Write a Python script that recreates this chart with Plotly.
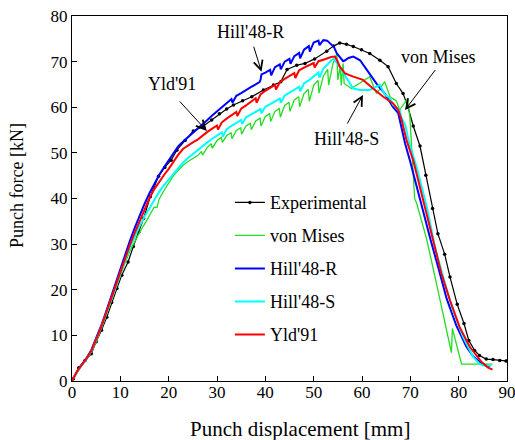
import plotly.graph_objects as go

# ---------------- data ----------------
exp_x = [0, 0.3, 1.4, 2.7, 4.0, 5.0, 6.1, 7.2, 8.2, 9.3, 10.3, 11.6, 12.7, 13.8, 14.8,
         16.2, 17.9, 19.2, 20.5, 21.7, 23.4, 25.1, 26.9, 28.9, 30.5, 32.0, 33.4, 35.3,
         37.2, 39.6, 41.7, 43.2, 44.5, 46.5, 48.2, 50.2, 52.7, 54.1, 55.4, 56.8, 58.2,
         59.9, 61.6, 63.7, 65.4, 67.1, 68.5, 69.5, 70.6, 72.0, 73.2, 74.6, 75.7, 77.1,
         78.2, 79.7, 81.1, 82.1, 83.3, 84.3, 85.7, 87.1, 88.5, 89.8]
exp_y = [0, 0.5, 2.9, 4.5, 6.0, 8.6, 11.1, 14.0, 17.2, 20.3, 23.2, 26.1, 29.5, 32.6, 35.6,
         40.4, 44.9, 46.8, 48.4, 50.6, 52.7, 54.8, 55.7, 57.2, 58.6, 59.6, 60.5, 61.4,
         62.3, 63.8, 64.9, 65.6, 68.3, 69.2, 69.6, 70.6, 72.3, 73.4, 74.1, 73.8, 73.3,
         72.6, 71.8, 70.3, 68.9, 65.2, 63.0, 60.1, 55.9, 51.5, 45.1, 37.8, 32.3, 27.8,
         22.8, 16.8, 12.6, 8.9, 6.7, 5.6, 4.8, 4.7, 4.5, 4.4]

vm_x = [0, 1, 2, 3, 4, 5, 6, 7, 8, 9, 10, 11, 12, 13, 14, 15, 16, 17, 17.6, 17.8, 18, 19,
        20, 21, 22, 23, 24, 25, 26, 26.8, 27.0, 28, 28.8, 29.0, 30, 30.9, 31.1, 32, 32.9,
        33.1, 34, 34.9, 35.1, 36, 36.9, 37.1, 38, 38.9, 39.1, 40, 40.9, 41.1, 42, 42.9,
        43.1, 44, 44.9, 45.1, 46, 46.9, 47.1, 48, 48.9, 49.1, 50, 50.9, 51.1, 52, 52.9,
        53.1, 54, 54.8, 55.0, 55.5, 55.7, 56.1, 56.3, 57.8, 59.9, 61.6, 63.0, 64.7, 65.8,
        67.1, 67.8, 69.4, 69.9, 70.3, 70.9, 71.3, 73.4, 76.0, 78.5, 78.7, 80.6, 87.0]
vm_y = [0, 1.8, 3.4, 4.8, 6.4, 8.6, 11.3, 14.2, 17.2, 20.2, 23.2, 26.0, 28.5, 30.7, 32.6,
        34.4, 36.3, 38.1, 38.0, 39.3, 39.8, 41.7, 43.4, 45.0, 46.2, 47.3, 48.1, 48.8, 49.4,
        50.3, 49.5, 51.2, 52.0, 51.0, 52.7, 53.4, 52.3, 53.8, 54.4, 53.1, 54.9, 55.5, 54.1,
        55.9, 56.5, 55.1, 57.0, 57.6, 55.9, 58.0, 58.6, 56.9, 59.1, 59.8, 57.8, 60.4, 61.1,
        59.1, 61.6, 62.3, 60.1, 63.0, 63.9, 61.3, 64.8, 65.9, 63.1, 66.8, 68.3, 64.9, 69.6,
        71.8, 66.0, 69.0, 64.8, 69.6, 65.2, 64.1, 65.6, 66.7, 63.0, 65.6, 62.3, 61.4, 59.4,
        61.9, 57.9, 50.0, 39.9, 39.0, 31.0, 18.5, 6.2, 11.5, 3.7, 3.7]

h48r_x = [0, 1, 2, 3, 4, 5, 6, 7, 8, 9, 10, 11, 12, 13, 14, 15, 16, 17, 18, 19, 20, 21,
          22, 23, 24, 25, 26, 27, 28, 29, 30, 31, 32, 33, 33.2, 34, 35, 36, 37, 38, 38.8,
          39.0, 39.2, 40, 41, 41.2, 42, 43, 43.2, 44, 45, 45.2, 46, 47, 47.2, 48, 49, 49.2,
          50, 51, 51.2, 52, 52.8, 53.4, 54.2, 54.8, 55.4, 56.1, 56.5, 57.2, 58.2, 59.0,
          59.6, 61.0, 63.0, 64.7, 66.4, 67.5, 68.2, 68.9, 69.9, 72.0, 74.2, 76.1, 77.5,
          79.5, 81.6, 83.0, 84.3, 85.4, 86.4]
h48r_y = [0, 2.0, 3.6, 5.0, 6.8, 9.2, 12.0, 15.0, 18.2, 21.5, 24.7, 27.8, 30.8, 33.6, 36.3,
          38.8, 41.1, 43.2, 45.1, 46.8, 48.4, 49.9, 51.5, 52.5, 53.4, 54.3, 55.2, 56.1, 57.2,
          58.2, 59.1, 60.0, 60.8, 61.8, 61.0, 62.5, 63.1, 63.8, 64.4, 65.0, 65.5, 66.0, 67.2,
          67.6, 68.2, 67.0, 68.8, 69.4, 68.3, 70.0, 70.6, 69.5, 71.2, 71.9, 70.7, 72.6, 73.4,
          72.2, 74.2, 74.6, 73.6, 74.7, 74.6, 74.0, 73.2, 71.8, 71.1, 70.1, 70.3, 70.8, 71.1,
          70.6, 70.3, 68.2, 65.2, 63.0, 60.1, 58.7, 55.0, 52.1, 48.4, 39.6, 30.9, 23.6, 18.1,
          12.2, 7.5, 5.4, 4.2, 3.5, 3.1]

h48s_x = [0, 1, 2, 3, 4, 5, 6, 7, 8, 9, 10, 11, 12, 13, 14, 15, 16, 17, 18, 19, 20, 21,
          22, 23, 24, 25, 26, 27, 28, 29, 30, 31, 31.2, 32, 33, 34, 35, 35.2, 36, 37, 38,
          39, 39.2, 40, 41, 42, 43, 43.2, 44, 45, 46, 47, 47.2, 48, 49, 50, 51, 51.2, 52,
          53, 53.6, 54.2, 55.4, 56.8, 57.8, 58.2, 59.6, 61.6, 62.8, 63.7, 64.7, 65.8, 66.4,
          67.8, 68.2, 69.0, 69.6, 71.3, 73.4, 75.1, 76.8, 78.8, 80.9, 83.0, 84.3, 85.0, 86.8]
h48s_y = [0, 1.9, 3.4, 4.8, 6.5, 8.9, 11.6, 14.5, 17.6, 20.7, 23.7, 26.6, 29.3, 31.8, 34.0,
          36.0, 37.9, 39.7, 41.4, 42.9, 44.2, 45.5, 46.8, 47.9, 48.9, 49.8, 50.6, 51.4, 52.3,
          53.1, 53.8, 54.5, 53.6, 55.2, 55.9, 56.6, 57.2, 56.3, 57.8, 58.4, 59.0, 59.6, 58.7,
          60.1, 60.7, 61.3, 61.9, 61.0, 62.6, 63.2, 63.9, 64.5, 63.5, 65.2, 65.9, 66.7, 67.6,
          66.5, 68.5, 69.5, 70.3, 70.6, 68.9, 66.4, 64.6, 64.1, 63.8, 63.8, 64.4, 64.9, 62.8,
          62.0, 60.6, 59.4, 57.6, 56.0, 52.8, 46.9, 38.2, 29.4, 22.8, 15.5, 9.7, 5.3, 3.8,
          3.4, 3.4]

yld_x = [0, 1, 2, 3, 4, 5, 6, 7, 8, 9, 10, 11, 12, 13, 14, 15, 16, 17, 18, 19, 20, 21,
         22, 23, 24, 25, 26, 27, 28, 29, 30, 30.2, 31, 32, 33, 34, 34.2, 35, 36, 37, 38,
         38.2, 39, 40, 41, 42, 42.2, 43, 44, 45, 46, 46.2, 47, 48, 49, 50, 50.2, 51, 52,
         53, 53.6, 54.4, 54.8, 55.4, 56.5, 58.2, 60.2, 62.3, 64.4, 66.4, 67.5, 68.2, 69.2,
         70.6, 72.6, 74.7, 76.4, 78.2, 80.2, 82.3, 84.7, 86.0, 87.0]
yld_y = [0, 2.0, 3.5, 4.9, 6.6, 9.0, 11.7, 14.7, 17.8, 21.0, 24.1, 27.1, 29.9, 32.5, 35.0,
         37.4, 40.0, 42.0, 43.7, 45.1, 46.5, 48.1, 49.6, 50.9, 51.7, 52.3, 52.9, 53.8, 54.6,
         55.3, 56.0, 55.1, 56.7, 57.5, 58.3, 59.0, 58.1, 59.7, 60.4, 61.2, 62.0, 61.0, 62.8,
         63.6, 64.3, 64.9, 63.9, 65.5, 66.2, 66.8, 67.5, 66.4, 68.1, 68.7, 69.2, 69.7, 68.7,
         70.1, 70.4, 70.8, 71.0, 71.1, 70.4, 68.9, 67.4, 66.7, 66.0, 64.1, 62.3, 60.9, 59.4,
         57.2, 52.8, 48.4, 39.6, 30.9, 23.6, 17.7, 11.8, 7.5, 4.2, 3.0, 2.5]

x_ticks = [0, 10, 20, 30, 40, 50, 60, 70, 80, 90]
y_ticks = [0, 10, 20, 30, 40, 50, 60, 70, 80]
x_title = "Punch displacement [mm]"
y_title = "Punch force [kN]"

FONT = "Liberation Serif, Times New Roman, serif"

fig = go.Figure()
fig.add_trace(go.Scatter(x=exp_x, y=exp_y, name="Experimental", mode="lines+markers",
                         line=dict(color="black", width=1.2),
                         marker=dict(color="black", size=3.5), legendgroup="a"))
fig.add_trace(go.Scatter(x=vm_x, y=vm_y, name="von Mises", mode="lines",
                         line=dict(color="#22dd22", width=1.3), legendgroup="b"))
fig.add_trace(go.Scatter(x=h48r_x, y=h48r_y, name="Hill'48-R", mode="lines",
                         line=dict(color="#0000ff", width=2), legendgroup="c"))
fig.add_trace(go.Scatter(x=h48s_x, y=h48s_y, name="Hill'48-S", mode="lines",
                         line=dict(color="#00ffff", width=2), legendgroup="d"))
fig.add_trace(go.Scatter(x=yld_x, y=yld_y, name="Yld'91", mode="lines",
                         line=dict(color="#ff0000", width=2), legendgroup="e"))

# labels with arrows: (text, text_x, text_y, tail_x, tail_y, tip_x, tip_y)
labels = [
    ("Hill'48-R", 37.0, 76.5, 37.5, 73.6, 39.2, 67.8),
    ("Yld'91", 20.7, 65.1, 22.0, 61.6, 27.9, 54.8),
    ("von Mises", 75.9, 71.0, 75.4, 68.5, 68.9, 59.4),
    ("Hill'48-S", 56.7, 53.0, 56.8, 56.1, 60.2, 62.7),
]
for txt, tx, ty, ax_, ay_, hx, hy in labels:
    fig.add_annotation(x=tx, y=ty, text=txt, showarrow=False,
                       font=dict(family=FONT, size=18, color="black"))
    fig.add_annotation(x=hx, y=hy, ax=ax_, ay=ay_, axref="x", ayref="y", text="",
                       showarrow=True, arrowhead=5, arrowsize=1.8, arrowwidth=1,
                       arrowcolor="black", standoff=0, startstandoff=0)

# axis titles (placed as in the reference)
fig.add_annotation(xref="paper", yref="paper", x=0.524, y=-0.132, text=x_title,
                   showarrow=False, xanchor="center", yanchor="middle",
                   font=dict(family=FONT, size=21, color="black"))
fig.add_annotation(xref="paper", yref="paper", x=-0.126, y=0.535, text=y_title,
                   showarrow=False, xanchor="center", yanchor="middle", textangle=-90,
                   font=dict(family=FONT, size=18, color="black"))

axis_common = dict(showline=True, linecolor="black", linewidth=1.2, mirror=True,
                   ticks="inside", ticklen=5, tickwidth=1, tickcolor="black",
                   showgrid=False, zeroline=False, automargin=False,
                   ticklabeloverflow="allow",
                   tickfont=dict(family=FONT, size=17, color="black"))

fig.update_layout(
    width=515, height=440,
    margin=dict(l=72, r=8, t=16, b=59),
    paper_bgcolor="white", plot_bgcolor="white",
    font=dict(family=FONT, color="black"),
    xaxis=dict(range=[0, 90], tickvals=x_ticks, ticklabelstandoff=-5, **axis_common),
    yaxis=dict(range=[0, 80], tickvals=y_ticks, **axis_common),
    legend=dict(x=0.363, y=0.539, xanchor="left", yanchor="top",
                bgcolor="rgba(0,0,0,0)", borderwidth=0,
                font=dict(family=FONT, size=18, color="black"),
                tracegroupgap=6.6),
    showlegend=True,
)

fig.write_html("out.html")
